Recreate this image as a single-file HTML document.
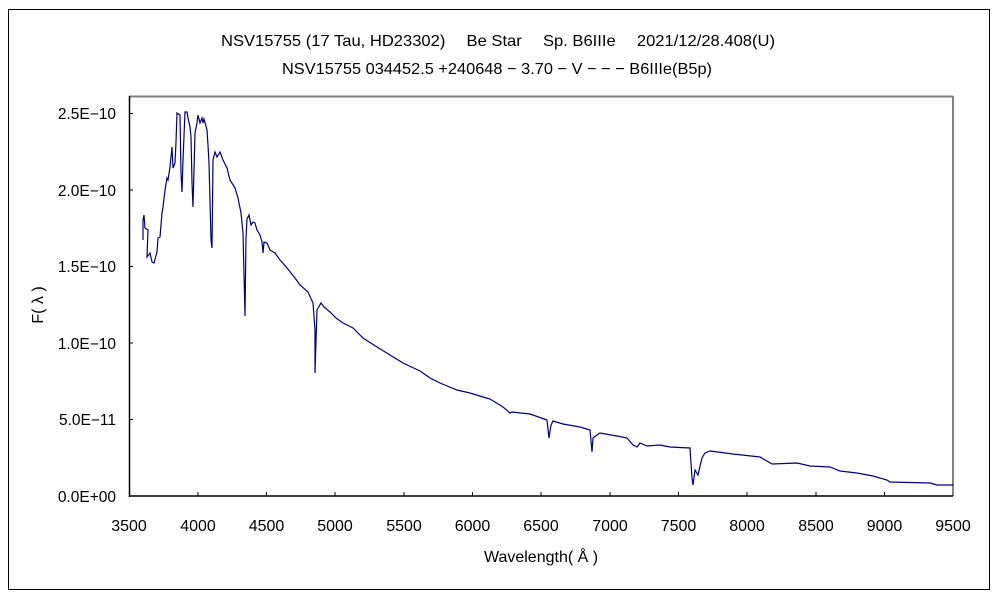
<!DOCTYPE html>
<html><head><meta charset="utf-8"><style>
body{margin:0;background:#fff;width:1000px;height:600px;overflow:hidden}
</style></head><body>
<svg width="1000" height="600" xmlns="http://www.w3.org/2000/svg" font-family="Liberation Sans, 'Noto Sans CJK JP', sans-serif" font-size="14" fill="#000">
<rect x="8.5" y="9.5" width="981" height="580" fill="none" stroke="#000" stroke-width="1"/>
<text x="498" y="46" text-anchor="middle" font-size="16" textLength="554" lengthAdjust="spacingAndGlyphs">NSV15755 (17 Tau, HD23302)　 Be Star　 Sp. B6IIIe　  2021/12/28.408(U)</text>
<text x="497" y="74" text-anchor="middle" font-size="16" textLength="430" lengthAdjust="spacingAndGlyphs">NSV15755 034452.5 +240648 − 3.70 − V − − − B6IIIe(B5p)</text>
<line x1="129" y1="96.5" x2="953" y2="96.5" stroke="#808080" stroke-width="2"/>
<line x1="953" y1="96" x2="953" y2="496" stroke="#808080" stroke-width="2"/>
<line x1="129.5" y1="96" x2="129.5" y2="497" stroke="#000" stroke-width="1.5"/>
<line x1="129" y1="496" x2="953" y2="496" stroke="#000" stroke-width="1.5"/>
<g stroke="#000" stroke-width="1">
<line x1="129" y1="113.5" x2="133" y2="113.5"/><line x1="129" y1="190" x2="133" y2="190"/><line x1="129" y1="266.5" x2="133" y2="266.5"/><line x1="129" y1="343" x2="133" y2="343"/><line x1="129" y1="419.5" x2="133" y2="419.5"/>
<line x1="198" y1="496" x2="198" y2="492"/><line x1="266.5" y1="496" x2="266.5" y2="492"/><line x1="335" y1="496" x2="335" y2="492"/><line x1="404" y1="496" x2="404" y2="492"/><line x1="472.5" y1="496" x2="472.5" y2="492"/><line x1="541" y1="496" x2="541" y2="492"/><line x1="610" y1="496" x2="610" y2="492"/><line x1="678.5" y1="496" x2="678.5" y2="492"/><line x1="747" y1="496" x2="747" y2="492"/><line x1="816" y1="496" x2="816" y2="492"/><line x1="884.5" y1="496" x2="884.5" y2="492"/>
</g>
<g text-anchor="end" font-size="15.5">
<text x="116" y="119">2.5E−10</text><text x="116" y="196">2.0E−10</text><text x="116" y="272">1.5E−10</text><text x="116" y="349">1.0E−10</text><text x="116" y="425">5.0E−11</text><text x="116" y="502">0.0E+00</text>
</g>
<g text-anchor="middle" font-size="16">
<text x="129" y="531">3500</text><text x="198" y="531">4000</text><text x="266.5" y="531">4500</text><text x="335" y="531">5000</text><text x="404" y="531">5500</text><text x="472.5" y="531">6000</text><text x="541" y="531">6500</text><text x="610" y="531">7000</text><text x="678.5" y="531">7500</text><text x="747" y="531">8000</text><text x="816" y="531">8500</text><text x="884.5" y="531">9000</text><text x="953" y="531">9500</text>
<text x="541" y="562">Wavelength( Å )</text>
<text transform="translate(43,305) rotate(-90)">F( λ )</text>
</g>
<polyline fill="none" stroke="#000080" stroke-width="1.2" points="143,240 143,220 144,215 145,228 148,230 147,257 150,253 152,262 154,263 157,252 158,238 160,237 162,213 163,207 165,190 167,178 168,180 170,167 172,147 173,168 175,163 176,142 177,113 180,115 181,173 182,192 183,160 185,112 187,112 188,118 190,127 191,137 192,183 193,207 195,133 197,123 198,115 200,123 202,118 203,123 204,119 207,130 208,145 209,163 211,240 212,248 213,160 215,152 217,157 220,152 223,160 227,168 230,180 235,188 238,198 241,213 243,233 245,316 246,238 247,219 249,215 251,225 253,222 255,223 257,230 260,235 262,242 263,253 264,242 267,243 270,250 275,253 280,260 287,268 295,278 300,285 308,292 313,303 315,330 315,373 317,310 321,303 324,307 330,312 336,318 343,323 353,328 363,338 377,347 390,355 403,363 420,371 430,378 440,383 457,390 470,393 483,397 490,399 503,407 510,413 512,412 530,414 547,420 549,438 551,425 553,421 563,424 580,427 590,430 592,452 593,438 597,435 600,433 617,436 627,438 633,445 637,447 640,443 647,446 660,445 670,447 690,448 692,478 693,485 695,470 698,475 702,458 705,453 710,451 733,454 760,457 772,464 797,463 810,466 830,467 840,471 857,473 873,476 887,480 890,482 930,483 937,485 953,485"/>
</svg>
</body></html>
